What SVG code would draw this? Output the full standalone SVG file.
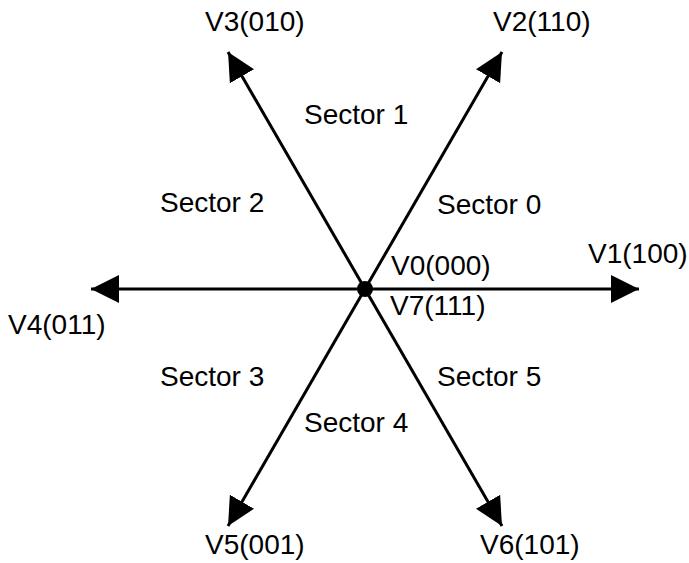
<svg xmlns="http://www.w3.org/2000/svg" width="689" height="563" viewBox="0 0 689 563">
<style>
text{font-family:"Liberation Sans",Arial,sans-serif;font-size:28px;fill:#000}
.ax{stroke:#000;stroke-width:3;fill:none}
</style>
<defs>
<marker id="ah" markerUnits="userSpaceOnUse" markerWidth="28" markerHeight="28" refX="26" refY="13" orient="auto" viewBox="0 0 26 26">
<path d="M0,0 L26,13 L0,26 Z" fill="#000"/>
</marker>
</defs>
<rect width="689" height="563" fill="#fff"/>
<g id="connectors">
<line class="ax" x1="365" y1="289" x2="639" y2="289" marker-end="url(#ah)"/>
<line class="ax" x1="365" y1="289" x2="91" y2="289" marker-end="url(#ah)"/>
<line class="ax" x1="365" y1="289" x2="502" y2="52" marker-end="url(#ah)"/>
<line class="ax" x1="365" y1="289" x2="228" y2="52" marker-end="url(#ah)"/>
<line class="ax" x1="365" y1="289" x2="228" y2="526" marker-end="url(#ah)"/>
<line class="ax" x1="365" y1="289" x2="502" y2="526" marker-end="url(#ah)"/>
</g>
<g id="origin"><circle cx="365" cy="289" r="8" fill="#000"/>
<text x="391" y="275">V0(000)</text>
<text x="390" y="315">V7(111)</text></g>
<g id="v1"><text x="588" y="263">V1(100)</text></g>
<g id="v2"><text x="493" y="31">V2(110)</text></g>
<g id="v3"><text x="205" y="31">V3(010)</text></g>
<g id="v4"><text x="8" y="334">V4(011)</text></g>
<g id="v5"><text x="205" y="554">V5(001)</text></g>
<g id="v6"><text x="480" y="554">V6(101)</text></g>
<g id="s0"><text x="437" y="214">Sector 0</text></g>
<g id="s1"><text x="304" y="124">Sector 1</text></g>
<g id="s2"><text x="160" y="212">Sector 2</text></g>
<g id="s3"><text x="160" y="386">Sector 3</text></g>
<g id="s4"><text x="304" y="432">Sector 4</text></g>
<g id="s5"><text x="437" y="386">Sector 5</text></g>
</svg>
